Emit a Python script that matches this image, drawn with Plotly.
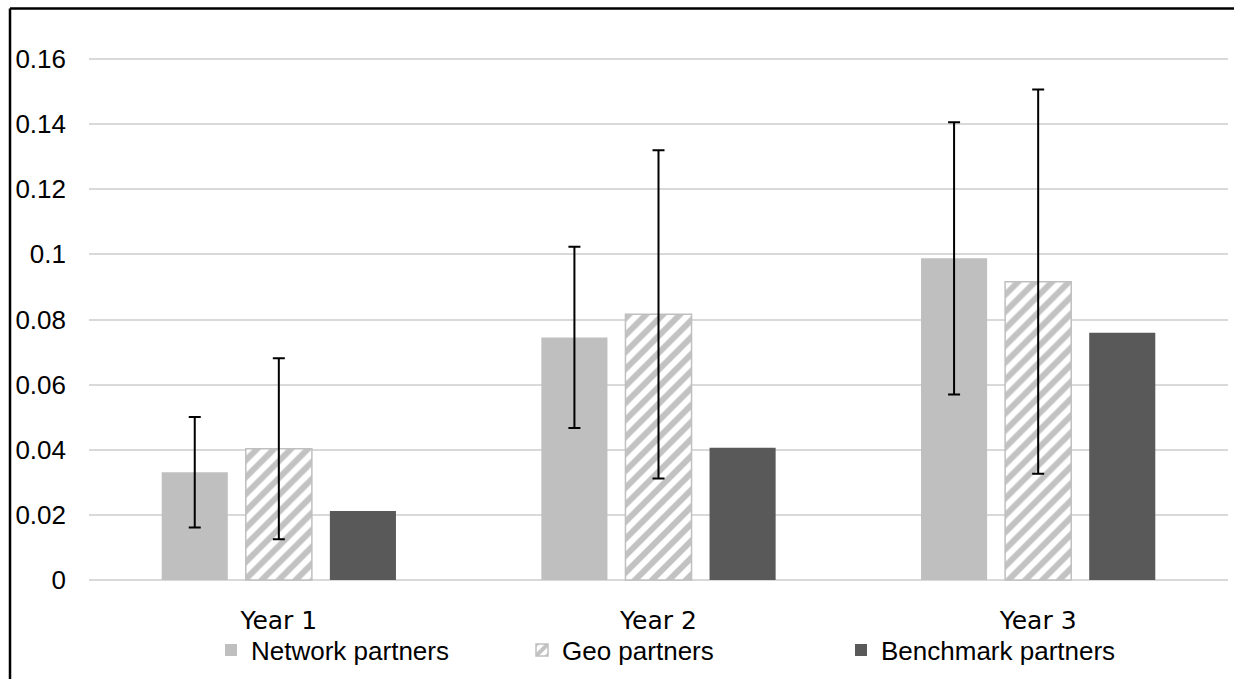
import plotly.graph_objects as go

# Category labels and axis ticks
years = ["Year 1", "Year 2", "Year 3"]
tick_vals = [0, 0.02, 0.04, 0.06, 0.08, 0.10, 0.12, 0.14, 0.16]
tick_text = ["0", "0.02", "0.04", "0.06", "0.08", "0.1", "0.12", "0.14", "0.16"]

# Series means
network = [0.0331, 0.0745, 0.0988]
geo = [0.0403, 0.0816, 0.0916]
benchmark = [0.0212, 0.0406, 0.0759]

# Symmetric error margins
network_err = [0.0170, 0.0278, 0.0418]
geo_err = [0.0278, 0.0504, 0.0590]

# Pixel geometry of the plot area (1234 x 679 canvas)
W, H = 1234, 679
L, R, T, B = 89, 6, 57, 97
plot_w = W - L - R
plot_h = H - T - B


def px_x(x):
    return (x - L) / plot_w


def px_y(y):
    return (H - B - y) / plot_h


err_style = dict(type="data", visible=True, color="black", thickness=2, width=6)

fig = go.Figure()
fig.add_trace(go.Bar(
    name="Network partners", x=years, y=network,
    marker=dict(color="#bfbfbf", line=dict(width=0)),
    error_y=dict(array=network_err, **err_style),
    legend="legend",
))
fig.add_trace(go.Bar(
    name="Geo partners", x=years, y=geo,
    marker=dict(
        color="white",
        line=dict(color="#bfbfbf", width=1.5),
        pattern=dict(shape="/", fgcolor="#858585", bgcolor="white",
                     size=12, solidity=0.5, fillmode="overlay"),
    ),
    error_y=dict(array=geo_err, **err_style),
    legend="legend2",
))
fig.add_trace(go.Bar(
    name="Benchmark partners", x=years, y=benchmark,
    marker=dict(color="#595959", line=dict(width=0)),
    legend="legend3",
))

legend_font = dict(family="Liberation Sans, Arial", size=26, color="black")
legend_common = dict(orientation="h", yanchor="middle", y=px_y(650), xanchor="left",
                     font=legend_font, bgcolor="rgba(0,0,0,0)", borderwidth=0)

fig.update_layout(
    width=W, height=H,
    margin=dict(l=L, r=R, t=T, b=B, pad=0),
    paper_bgcolor="white", plot_bgcolor="white",
    barmode="group", bargap=0.3356, bargroupgap=0.214,
    showlegend=True,
    legend=dict(x=px_x(211), **legend_common),
    legend2=dict(x=px_x(522), **legend_common),
    legend3=dict(x=px_x(841), **legend_common),
    xaxis=dict(
        showgrid=False, showline=False, zeroline=False, ticks="",
        tickfont=dict(family="DejaVu Sans, Verdana", size=25, color="black"),
        ticklabelstandoff=21,
    ),
    yaxis=dict(
        range=[-0.0006, 0.1606],
        tickvals=tick_vals, ticktext=tick_text,
        showgrid=True, gridcolor="#d9d9d9", gridwidth=1.5,
        zeroline=True, zerolinecolor="#d9d9d9", zerolinewidth=1.5,
        showline=False, ticks="",
        tickfont=dict(family="Liberation Sans, Arial", size=26, color="black"),
        ticklabelstandoff=22,
    ),
    shapes=[
        dict(type="line", xref="paper", yref="paper",
             x0=px_x(10), x1=px_x(10), y0=px_y(8.5), y1=px_y(700),
             line=dict(color="black", width=2.5)),
        dict(type="line", xref="paper", yref="paper",
             x0=px_x(10), x1=px_x(1260), y0=px_y(8.5), y1=px_y(8.5),
             line=dict(color="black", width=2.5)),
    ],
)

fig.write_html("out.html")
